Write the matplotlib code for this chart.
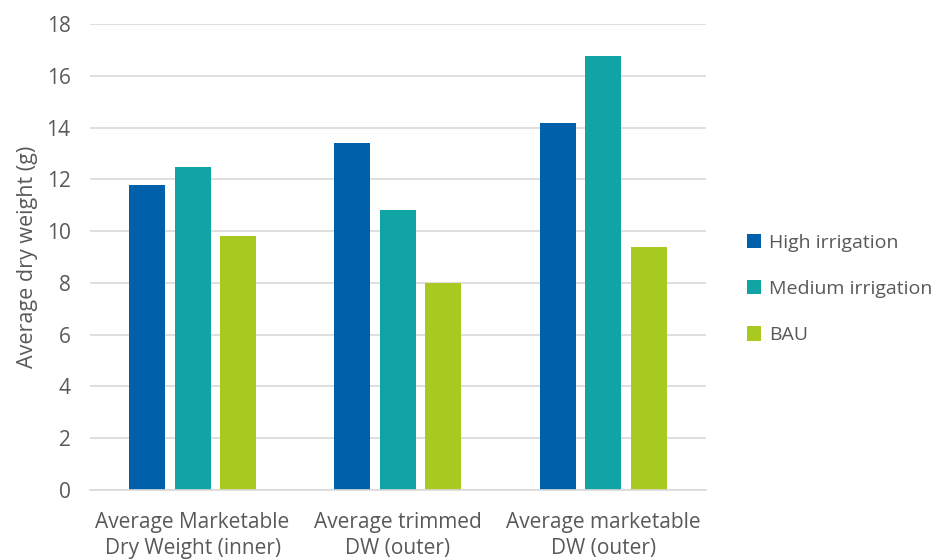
import matplotlib.pyplot as plt
import numpy as np

categories = ["Average Marketable\nDry Weight (inner)",
              "Average trimmed\nDW (outer)",
              "Average marketable\nDW (outer)"]
series_names = ["High irrigation", "Medium irrigation", "BAU"]
high = [11.78, 13.41, 14.20]
medium = [12.49, 10.81, 16.78]
bau = [9.81, 7.99, 9.38]

colors = ["#0060AA", "#10A4A4", "#A8C920"]
text_color = "#595959"

plt.rcParams["font.family"] = ["Open Sans", "DejaVu Sans"]

fig = plt.figure(figsize=(9.46, 5.59), dpi=100)
ax = fig.add_axes([0.0951, 0.1243, 0.651, 0.8319])

x = np.arange(len(categories))
width = 0.175
step = 0.222
for i, (vals, name) in enumerate(zip([high, medium, bau], series_names)):
    ax.bar(x + (i - 1) * step, vals, width, color=colors[i], label=name,
           zorder=3)

ax.set_xlim(-0.5, 2.5)
ax.set_ylim(0, 18)
ax.set_yticks(range(0, 19, 2))
ax.set_xticks(x)
ax.set_xticklabels(categories, fontsize=15, color=text_color,
                   linespacing=1.35)
ax.tick_params(axis="y", labelsize=15, colors=text_color, length=0, pad=14)
ax.tick_params(axis="x", length=0, pad=16)
ax.grid(axis="y", color="#D9D9D9", linewidth=1.2, zorder=0)

for side in ["top", "right", "left"]:
    ax.spines[side].set_visible(False)
ax.spines["bottom"].set_color("#D9D9D9")
ax.spines["bottom"].set_linewidth(1.2)
ax.spines["bottom"].set_zorder(4)

ax.set_ylabel("Average dry weight (g)", fontsize=15.5, color=text_color,
              labelpad=6)

leg = fig.legend(loc="center left", bbox_to_anchor=(0.771, 0.483),
                 frameon=False, fontsize=14, handlelength=0.75,
                 handleheight=0.75, handletextpad=0.4, labelspacing=1.45)
for t in leg.get_texts():
    t.set_color(text_color)

fig.savefig("out.png", dpi=100)
